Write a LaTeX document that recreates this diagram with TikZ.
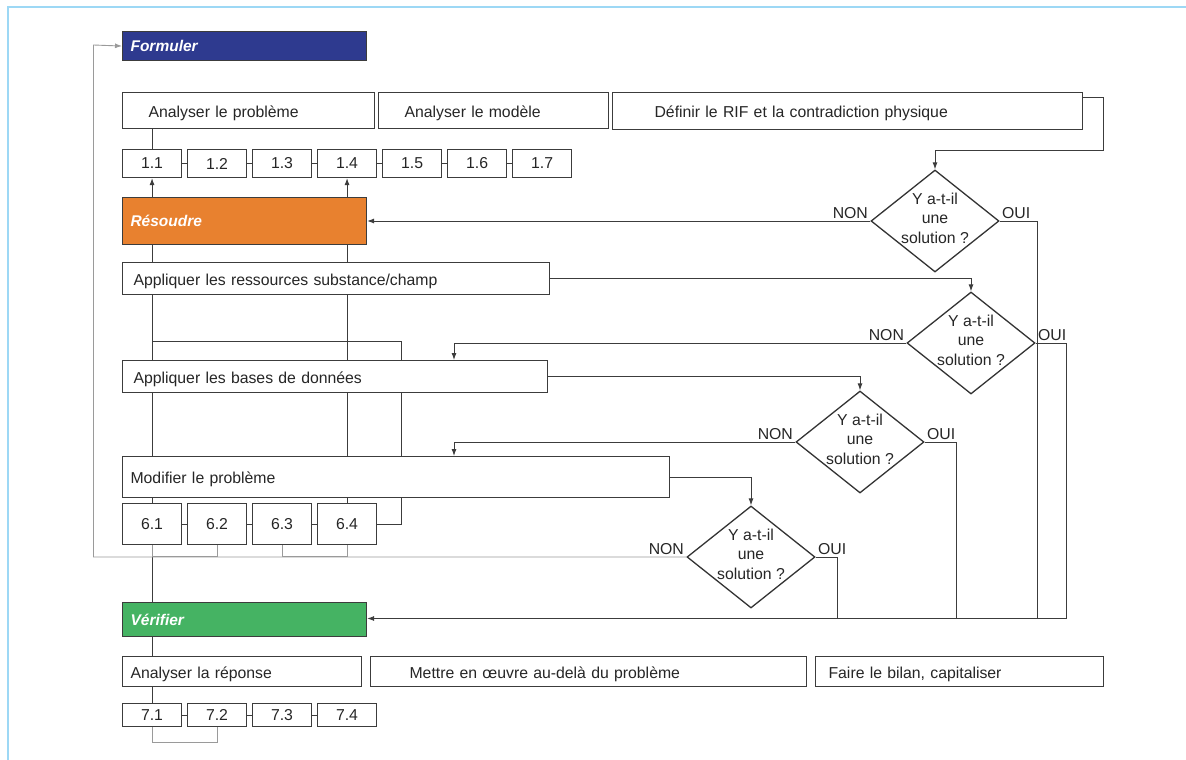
\documentclass[tikz,border=0pt]{standalone}
\usepackage{fontspec}
\setmainfont{Liberation Sans}
\usetikzlibrary{shapes.geometric, arrows.meta, backgrounds}
\definecolor{bleuF}{HTML}{2E3A8F}
\definecolor{orangeR}{HTML}{E8812F}
\definecolor{vertV}{HTML}{45B363}
\definecolor{cadre}{HTML}{9DD8F5}
\definecolor{trait}{HTML}{3C3C3C}
\definecolor{clair}{HTML}{9A9A9A}
\newcommand{\question}{\makebox[0pt]{\smash{\raisebox{-2.5pt}{\fontsize{15.8}{19.6}\selectfont\begin{tabular}{@{}c@{}}Y a-t-il\\une\\solution ?\end{tabular}}}}}

\begin{document}
\begin{tikzpicture}[x=1pt, y=-1pt, >={Latex[length=7pt, width=5pt]},
    font=\fontsize{15.8}{19}\selectfont,
    etape/.style={draw=trait, line width=1.1pt, fill=white, anchor=north west, inner ysep=0pt, align=left, text height=13pt, text depth=0pt, text=black!85},
    phase/.style={etape, fill=#1, font=\fontsize{15.5}{19}\selectfont\bfseries\itshape, text=white, inner xsep=8pt, text width=228pt, text height=11pt},
    num/.style={draw=trait, line width=1.1pt, fill=white, anchor=north west, inner sep=0pt, minimum width=59pt, text=black!85},
    choix/.style={diamond, draw=black!80, line width=1.3pt, fill=white, inner sep=0pt, minimum width=128pt, minimum height=102pt, text=black!85},
    fil/.style={draw=trait, line width=0.9pt},
    clairfil/.style={draw=clair, line width=0.9pt},
    non/.style={anchor=south east, inner sep=2pt, text=black!85},
    oui/.style={anchor=south west, inner sep=2pt, text=black!85}]
  \useasboundingbox (0,0) rectangle (1186,760);
  \draw[cadre, line width=2pt] (8,760) -- (8,7) -- (1186,7);

  % Formuler
  \node[phase=bleuF, minimum height=29pt] (form) at (122,31) {Formuler};
  \node[etape, minimum height=36pt, inner xsep=26pt, text width=200pt] (ap) at (122,92) {Analyser le problème};
  \node[etape, minimum height=36pt, inner xsep=26pt, text width=178pt] (am) at (378,92) {Analyser le modèle};
  \node[etape, minimum height=37pt, inner xsep=42pt, text width=386pt] (defi) at (612,92) {Définir le RIF et la contradiction physique};
  \foreach \i in {1,...,7}
    \node[num, minimum height=28pt] (n1\i) at ({122+65*(\i-1)},149) {1.\i};

  % Resoudre
  \node[phase=orangeR, minimum height=47pt] (res) at (122,197) {Résoudre};
  \node[etape, minimum height=32pt, inner xsep=11pt, text width=405pt] (app1) at (122,262) {Appliquer les ressources substance/champ};
  \node[etape, minimum height=32pt, inner xsep=11pt, text width=403pt] (app2) at (122,360) {Appliquer les bases de données};
  \node[etape, minimum height=41pt, inner xsep=8pt, text width=531pt] (modif) at (122,456) {Modifier le problème};
  \foreach \i in {1,...,4}
    \node[num, minimum height=41pt] (n6\i) at ({122+65*(\i-1)},503) {6.\i};

  % questions
  \node[choix] (d1) at (935,221) {\question};
  \node[choix] (d2) at (971,343) {\question};
  \node[choix] (d3) at (860,442) {\question};
  \node[choix] (d4) at (751,557) {\question};

  % Verifier
  \node[phase=vertV, minimum height=34pt] (ver) at (122,602) {Vérifier};
  \node[etape, minimum height=30pt, inner xsep=8pt, text width=223pt] (arep) at (122,656) {Analyser la réponse};
  \node[etape, minimum height=30pt, inner xsep=39pt, text width=358pt] (mettre) at (370,656) {Mettre en œuvre au-delà du problème};
  \node[etape, minimum height=30pt, inner xsep=13pt, text width=262pt] (bilan) at (815,656) {Faire le bilan, capitaliser};
  \foreach \i in {1,...,4}
    \node[num, minimum height=23pt] (n7\i) at ({122+65*(\i-1)},703) {7.\i};

  \coordinate (c1) at (1103.5,150.5);
  \coordinate (r6) at (401.5,341.5);
  \coordinate (g) at (93.5,45);
  \coordinate (o1) at (1037.5,618.5);
  \coordinate (o2) at (1066.5,618.5);
  \coordinate (o3) at (956.5,618.5);
  \coordinate (o4) at (837.5,618.5);

  \begin{scope}[on background layer]
    \foreach \i [count=\j from 2] in {1,...,6}
      \draw[fil] (n1\i.east) -- (n1\j.west);
    \foreach \i [count=\j from 2] in {1,...,3}
      \draw[fil] (n6\i.east) -- (n6\j.west);
    \foreach \i [count=\j from 2] in {1,...,3}
      \draw[fil] (n7\i.east) -- (n7\j.west);
    \draw[fil] (ap.south -| n11) -- (n11.north);
    \draw[fil, ->] (res.north -| n11) -- (n11.south);
    \draw[fil, ->] (res.north -| n14) -- (n14.south);
    \draw[fil] (res.south -| n11) -- (ver.north -| n11);
    \draw[fil] (res.south -| n14) -- (n64.north);
    \draw[fil] (n64.east) -| (r6) -- (r6 -| n11);
    \draw[fil] (ver.south -| n71) -- (n71.north);
    \draw[clairfil] (n62.south) -- ++(0,11) -| (n61.south);
    \draw[clairfil] (n63.south) -- ++(0,11) -| (n64.south);
    \draw[clairfil] (n72.south) -- ++(0,15) -| (n71.south);

    \draw[fil, ->] ([yshift=-5pt]defi.north east) -| (c1) -| (d1.north);
    \draw[fil, ->] (app1.east) -| (d2.north);
    \draw[fil, ->] (app2.east) -| (d3.north);
    \draw[fil, ->] (modif.east) -| (d4.north);

    \draw[fil, ->] (d1.west) node[non] {NON} -- (res.east |- d1.west);
    \draw[fil, ->] (d2.west) node[non] {NON} -| ([xshift=332pt]app2.north west);
    \draw[fil, ->] (d3.west) node[non] {NON} -| ([xshift=332pt]modif.north west);
    \draw[clairfil, ->] (d4.west) node[non] {NON} -| (g) -- (form.west);

    \draw[fil] (d1.east) node[oui] {OUI} -| (o1);
    \draw[fil, ->] (d2.east) node[oui] {OUI} -| (o2) -- (ver.east |- o2);
    \draw[fil] (d3.east) node[oui] {OUI} -| (o3);
    \draw[fil] (d4.east) node[oui] {OUI} -| (o4);
  \end{scope}
\end{tikzpicture}
\end{document}
